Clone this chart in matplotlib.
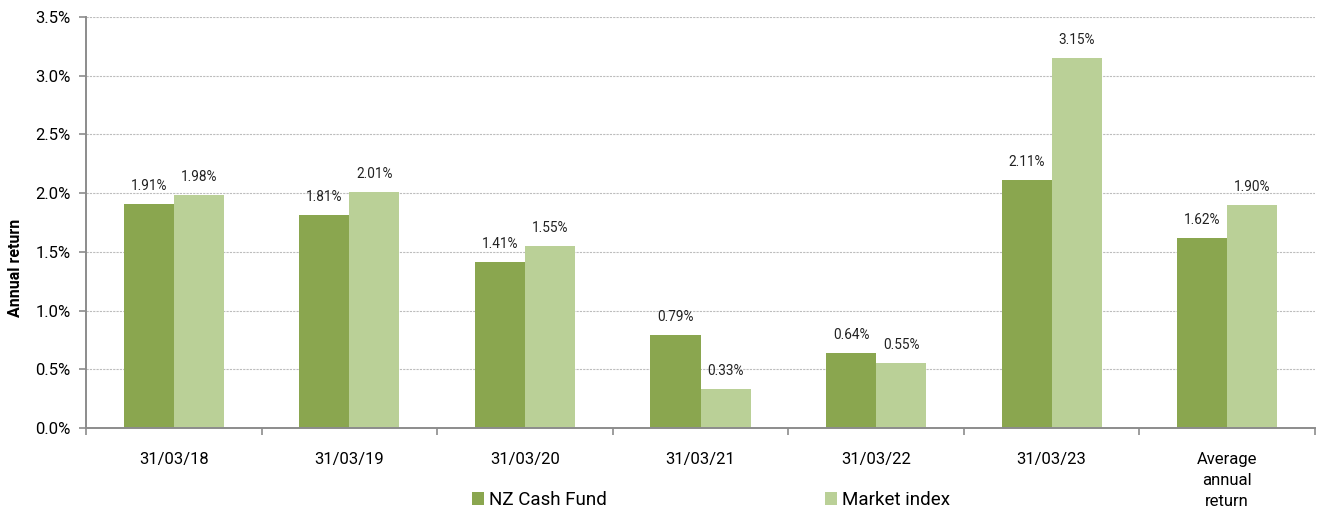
import numpy as np
import matplotlib.pyplot as plt
from matplotlib.ticker import FuncFormatter

categories = ["31/03/18", "31/03/19", "31/03/20", "31/03/21", "31/03/22", "31/03/23",
              "Average\nannual\nreturn"]
fund = [1.91, 1.81, 1.41, 0.79, 0.64, 2.11, 1.62]
market = [1.98, 2.01, 1.55, 0.33, 0.55, 3.15, 1.90]

DARK = "#8aa64f"
LIGHT = "#bad097"
AXIS = "#8c8c8c"

plt.rcParams['font.family'] = ['Roboto', 'DejaVu Sans']

fig = plt.figure(figsize=(13.19, 5.12), dpi=100)
ax = fig.add_axes([86 / 1319, 1 - 428 / 512, (1315 - 86) / 1319, (428 - 17) / 512])

x = np.arange(len(categories))
w = 0.285
b1 = ax.bar(x - w / 2, fund, w, color=DARK, label="NZ Cash Fund")
b2 = ax.bar(x + w / 2, market, w, color=LIGHT, label="Market index")

# value labels above each bar
for bars, vals in ((b1, fund), (b2, market)):
    for r, v in zip(bars, vals):
        ax.annotate(f"{v:.2f}%", (r.get_x() + r.get_width() / 2, v),
                    xytext=(0, 8), textcoords="offset points",
                    ha="center", va="bottom", fontsize=9.8, color="#222222")

ax.set_xlim(-0.5, len(categories) - 0.5)
ax.set_ylim(0, 3.5)
ax.set_yticks(np.arange(0, 3.51, 0.5))
ax.yaxis.set_major_formatter(FuncFormatter(lambda v, _: f"{v:.1f}%"))
ax.set_xticks(x)
ax.set_xticklabels(categories, fontsize=12)
for lab in ax.get_xticklabels():
    lab.set_linespacing(1.5)
ax.set_xticks(np.arange(-0.5, len(categories), 1), minor=True)
ax.tick_params(axis="x", which="major", length=0, pad=17)
ax.tick_params(axis="x", which="minor", length=5, color=AXIS, width=1.2)
ax.tick_params(axis="y", labelsize=12, length=5, color=AXIS, width=1.2, pad=6)

ax.grid(axis="y", linestyle=(0, (2, 1)), color="#bdbdbd", linewidth=0.8)
ax.set_axisbelow(True)
for s in ("top", "right"):
    ax.spines[s].set_visible(False)
for s in ("left", "bottom"):
    ax.spines[s].set_color(AXIS)
    ax.spines[s].set_linewidth(1.4)

ax.set_ylabel("Annual return", fontsize=11.5, fontweight="bold")
ax.yaxis.set_label_coords(-0.0513, 0.389)

fig.legend(handles=[b1, b2], loc="center", bbox_to_anchor=(711 / 1319, 1 - 500 / 512),
           ncol=2, frameon=False, fontsize=13.5, handlelength=0.64, handleheight=0.64,
           handletextpad=0.3, columnspacing=11.6, borderaxespad=0)

fig.savefig("out.png", dpi=100)
